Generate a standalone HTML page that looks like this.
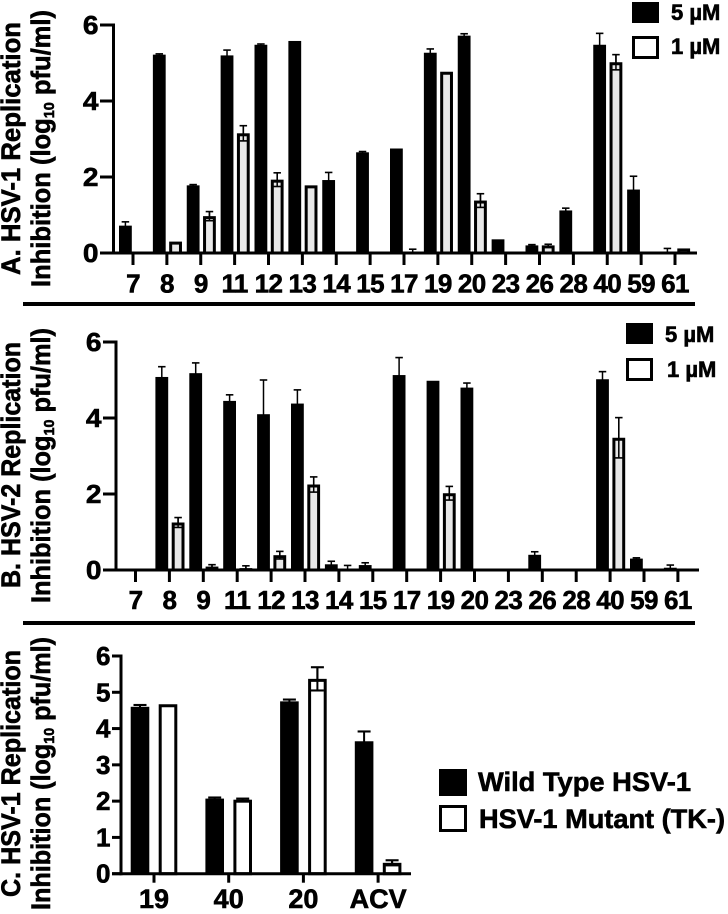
<!DOCTYPE html>
<html>
<head>
<meta charset="utf-8">
<title>HSV replication inhibition</title>
<style>
html,body{margin:0;padding:0;background:#fff;width:728px;height:914px;overflow:hidden}
svg{display:block}
text{font-family:"Liberation Sans",sans-serif;font-weight:bold;fill:#000;stroke:#000;stroke-width:.6px}
</style>
</head>
<body>
<svg id="fig" width="728" height="914" viewBox="0 0 728 914" xmlns="http://www.w3.org/2000/svg">
  <rect x="0" y="0" width="728" height="914" fill="#fff"/>
  <rect x="23" y="302" width="672" height="4" fill="#000"/>
  <rect x="23" y="621" width="672" height="4" fill="#000"/>

  <text transform="translate(20,275) rotate(-90)" font-size="26.5" textLength="253" lengthAdjust="spacingAndGlyphs">A. HSV-1 Replication</text>
  <text transform="translate(50,287) rotate(-90)" font-size="26.5" textLength="277" lengthAdjust="spacingAndGlyphs">Inhibition (log<tspan font-size="15" dy="4">10</tspan><tspan dy="-4"> pfu/ml)</tspan></text>

  <text transform="translate(20,588) rotate(-90)" font-size="26.5" textLength="246" lengthAdjust="spacingAndGlyphs">B. HSV-2 Replication</text>
  <text transform="translate(50,603) rotate(-90)" font-size="26.5" textLength="275" lengthAdjust="spacingAndGlyphs">Inhibition (log<tspan font-size="15" dy="4">10</tspan><tspan dy="-4"> pfu/ml)</tspan></text>

  <text transform="translate(20,897) rotate(-90)" font-size="26.5" textLength="247" lengthAdjust="spacingAndGlyphs">C. HSV-1 Replication</text>
  <text transform="translate(50,910) rotate(-90)" font-size="26.5" textLength="273" lengthAdjust="spacingAndGlyphs">Inhibition (log<tspan font-size="15" dy="4">10</tspan><tspan dy="-4"> pfu/ml)</tspan></text>

  <g>
    <rect x="632" y="2" width="27" height="21" fill="#000"/>
    <text x="671" y="20" font-size="22">5 µM</text>
    <rect x="633.5" y="37.5" width="24" height="20" fill="#fff" stroke="#000" stroke-width="3"/>
    <text x="671" y="54" font-size="22">1 µM</text>
  </g>
  <g>
    <rect x="626" y="323" width="27" height="21" fill="#000"/>
    <text x="665" y="342" font-size="22">5 µM</text>
    <rect x="627.5" y="359.5" width="24" height="20" fill="#fff" stroke="#000" stroke-width="3"/>
    <text x="667" y="377" font-size="22">1 µM</text>
  </g>
  <g>
    <rect x="439" y="769" width="28" height="27" fill="#000"/>
    <text x="478" y="791" font-size="27" textLength="213" lengthAdjust="spacingAndGlyphs">Wild Type HSV-1</text>
    <rect x="440.5" y="806.5" width="25" height="24" fill="#fff" stroke="#000" stroke-width="3"/>
    <text x="479" y="828" font-size="27" textLength="246" lengthAdjust="spacingAndGlyphs">HSV-1 Mutant (TK-)</text>
  </g>
</svg>
<script>
var compounds = ["7","8","9","11","12","13","14","15","17","19","20","23","26","28","40","59","61"];
var ticksAB = [0,2,4,6];

var a5 = [0.72,5.22,1.78,5.2,5.48,5.58,1.92,2.65,2.75,5.27,5.72,0.36,0.2,1.12,5.48,1.67,0];
var a5Err = [0.1,0.02,0.02,0.14,0.02,0,0.2,0.02,0,0.1,0.05,0,0.02,0.06,0.3,0.35,0.12];
var a1 = [0,0.3,0.97,3.15,1.93,1.78,0,0,0,4.77,1.38,0,0.2,0,5.02,0,0.12];
var a1Err = [0,0,0.12,0.2,0.18,0,0,0,0.1,0,0.18,0,0.03,0,0.2,0,0];

var b5 = [0,5.08,5.18,4.45,4.1,4.38,0.15,0.13,5.13,4.98,4.8,0,0.4,0,5.02,0.3,0.06];
var b5Err = [0,0.27,0.27,0.16,0.9,0.36,0.08,0.06,0.46,0,0.12,0,0.08,0,0.2,0.02,0.07];
var b1 = [0,1.25,0.09,0.05,0.39,2.25,0,0,0,2.02,0,0,0,0,3.48,0,0];
var b1Err = [0,0.13,0.05,0.06,0.1,0.2,0.12,0,0,0.18,0,0,0,0,0.53,0,0];

var cCategories = ["19","40","20","ACV"];
var ticksC = [0,1,2,3,4,5,6];
var cWild = [4.6,2.07,4.75,3.65];
var cWildErr = [0.05,0.03,0.05,0.27];
var cMutant = [4.67,2.04,5.37,0.3];
var cMutantErr = [0,0.03,0.32,0.07];

var NS = "http://www.w3.org/2000/svg";
var fig = document.getElementById("fig");

function mk(parent, tag, attrs) {
  var el = document.createElementNS(NS, tag);
  for (var k in attrs) el.setAttribute(k, attrs[k]);
  parent.appendChild(el);
  return el;
}

function drawBar(g, x, w, y0, yScale, v, e, solid, fill, capW, errW) {
  var cx = x + w / 2;
  if (e > 0) {
    var hi = yScale(v + e);
    var lo = yScale(Math.max(0, v - e));
    var stem = mk(g, "line", {x1: cx, x2: cx, y1: hi, y2: lo, stroke: "#000", "stroke-width": errW});
    
    
    var cap = mk(g, "line", {x1: cx - capW / 2, x2: cx + capW / 2, y1: hi, y2: hi, stroke: "#000", "stroke-width": errW + 0.1});
    
    
  }
  if (v <= 0) return;
  var top = yScale(v);
  var bar;
  if (solid) {
    bar = mk(g, "rect", {x: x, y: top, width: w, height: y0 - top, fill: "#000"});
  } else {
    bar = mk(g, "rect", {x: x + 1.5, y: top + 1.5, width: w - 3, height: Math.max(0, y0 - top - 1.5), fill: fill, stroke: "#000", "stroke-width": 3});
    if (e > 0) {
      var loY = yScale(Math.max(0, v - e));
      var hiY = yScale(v + e);
      var s2 = mk(g, "line", {x1: cx, x2: cx, y1: hiY, y2: loY, stroke: "#000", "stroke-width": errW});
      
      
      if (v - e > 0) {
        var c2 = mk(g, "line", {x1: cx - capW / 2, x2: cx + capW / 2, y1: loY, y2: loY, stroke: "#000", "stroke-width": errW + 0.1});
        
        
      }
    }
  }
  
  
}

function drawPanel(p) {
  var g = mk(fig, "g", {});
  
  
  var yMax = p.ticks[p.ticks.length - 1];
  function yScale(v) { return p.y0 - (p.y0 - p.yTop) * v / yMax; }
  function xScale(i) { return p.x0 + p.pitch * i; }

  p.cats.forEach(function (c, i) {
    var t = xScale(i);
    drawBar(g, t + p.solidOff, p.barW, p.y0, yScale, p.s1[i], p.e1[i], true, "#000", p.capW, p.errW);
    drawBar(g, t + p.openOff, p.barW, p.y0, yScale, p.s2[i], p.e2[i], false, p.fill, p.capW, p.errW);
  });

  var yAxis = mk(g, "line", {x1: p.axisX, x2: p.axisX, y1: yScale(yMax) - 1.5, y2: p.y0 + 1.5, stroke: "#000", "stroke-width": 3});
  
  
  var xAxis = mk(g, "line", {x1: p.tickLeft, x2: p.axisEnd, y1: p.y0, y2: p.y0, stroke: "#000", "stroke-width": 3});
  
  

  p.ticks.forEach(function (v) {
    var y = yScale(v);
    var t = mk(g, "line", {x1: p.tickLeft, x2: p.axisX, y1: y, y2: y, stroke: "#000", "stroke-width": 3});
    
    
    var lb = mk(g, "text", {"text-anchor": "end", "font-size": p.yFont, transform: "translate(" + p.yLabelX + "," + (y + p.yLabelDy) + ") scale(" + p.yStretch + ",1)"});
    lb.textContent = v;
    
    
  });

  p.cats.forEach(function (c, i) {
    var x = xScale(i);
    var t = mk(g, "line", {x1: x, x2: x, y1: p.y0, y2: p.y0 + p.tickLen, stroke: "#000", "stroke-width": 3});
    
    
    var lb = mk(g, "text", {x: x, y: p.xLabelY, "text-anchor": "middle", "font-size": p.xFont, "letter-spacing": p.xSpacing});
    lb.textContent = c;
    
    
  });
}

drawPanel({name: "panel-a-chart", cats: compounds, ticks: ticksAB, s1: a5, e1: a5Err, s2: a1, e2: a1Err,
  y0: 253, yTop: 25, x0: 133, pitch: 33.875, axisX: 113.5, tickLeft: 100, axisEnd: 697, tickLen: 12,
  solidOff: -14, openOff: 2.3, barW: 12.8, capW: 7.5, errW: 1.5, fill: "#e8e8e8", xLabelY: 292.5, xFont: 26, xSpacing: -0.6,
  yLabelX: 98.5, yLabelDy: 9, yFont: 26, yStretch: 1.08});

drawPanel({name: "panel-b-chart", cats: compounds, ticks: ticksAB, s1: b5, e1: b5Err, s2: b1, e2: b1Err,
  y0: 570, yTop: 342, x0: 135.5, pitch: 33.9, axisX: 116, tickLeft: 103, axisEnd: 699, tickLen: 12,
  solidOff: -14, openOff: 2.3, barW: 12.8, capW: 7.5, errW: 1.5, fill: "#e8e8e8", xLabelY: 609, xFont: 26, xSpacing: -0.6,
  yLabelX: 101.5, yLabelDy: 9, yFont: 26, yStretch: 1.08});

drawPanel({name: "panel-c-chart", cats: cCategories, ticks: ticksC, s1: cWild, e1: cWildErr, s2: cMutant, e2: cMutantErr,
  y0: 873.7, yTop: 656, x0: 154, pitch: 74.7, axisX: 121, tickLeft: 112, axisEnd: 411, tickLen: 9,
  solidOff: -23.3, openOff: 4.7, barW: 18.6, capW: 13, errW: 2, fill: "#fff", xLabelY: 908, xFont: 27, xSpacing: 0,
  yLabelX: 110.5, yLabelDy: 9, yFont: 26, yStretch: 1});
</script>
</body>
</html>
